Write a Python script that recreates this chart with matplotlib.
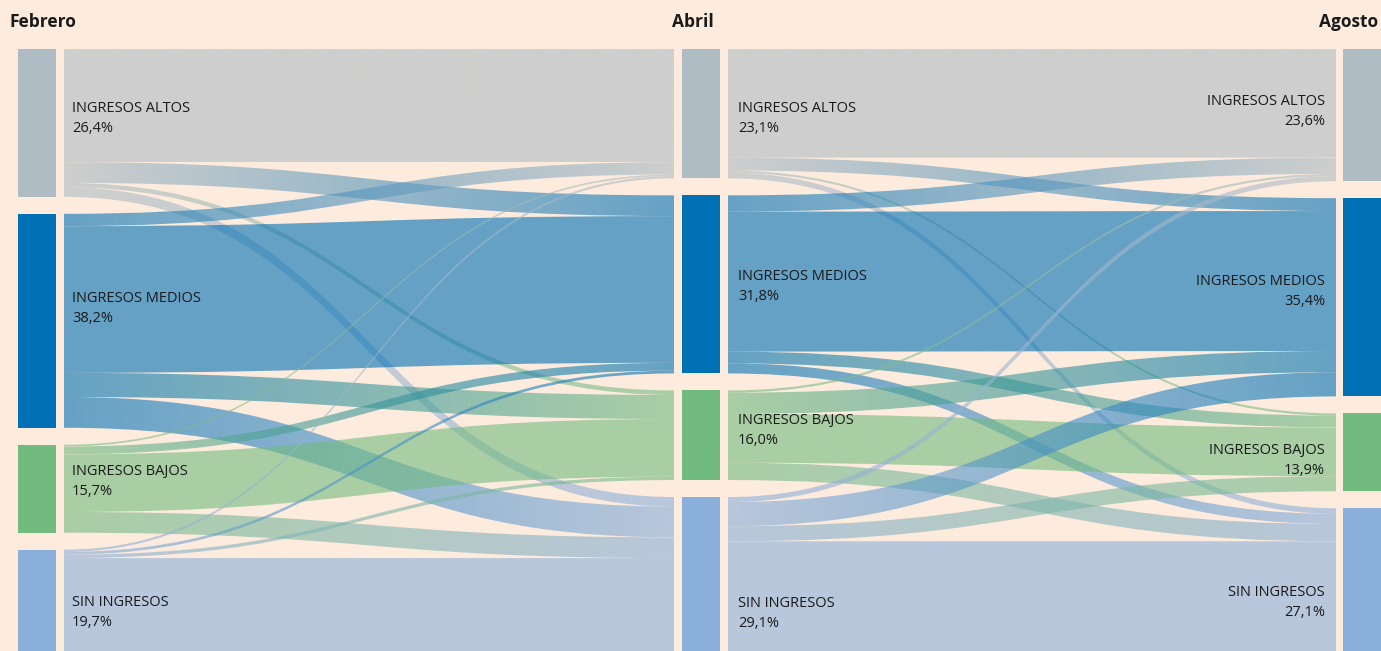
import numpy as np
import matplotlib.pyplot as plt
from matplotlib.path import Path
from matplotlib.patches import PathPatch, Rectangle
from matplotlib.colors import to_rgb

plt.rcParams['font.family'] = ['Open Sans', 'DejaVu Sans']

categorias = ["INGRESOS ALTOS", "INGRESOS MEDIOS", "INGRESOS BAJOS", "SIN INGRESOS"]
meses = ["Febrero", "Abril", "Agosto"]
febrero = [26.4, 38.2, 15.7, 19.7]
abril = [23.1, 31.8, 16.0, 29.1]
agosto = [23.6, 35.4, 13.9, 27.1]

# flujos en % del total: filas = origen, columnas = destino
feb_abr = [[20.2, 3.7, 0.8, 1.7],
           [2.2, 26.2, 4.3, 5.5],
           [0.3, 1.4, 10.3, 3.7],
           [0.4, 0.5, 0.6, 18.2]]
abr_ago = [[19.4, 2.3, 0.4, 1.0],
           [2.9, 25.0, 2.1, 1.8],
           [0.4, 3.8, 8.7, 3.1],
           [0.9, 4.3, 2.7, 21.2]]

colores = ["#afbcc4", "#0071b5", "#72bb7f", "#8bafdb"]
fondo = "#fdebdd"
texto = "#1a1a1a"

W, H = 1381, 651
escala = 5.6      # px por punto porcentual
top_px = 49
gap = 17 / escala
node_x = [18, 682, 1343]
node_w = 38
link_x = [(64, 674), (728, 1336)]
# ajuste vertical de las etiquetas (px) respecto al centro del nodo
ajuste = [[-4, -12, -7, 8],
          [5, 2, -5, 35],
          [-4, -6, 8, 18]]


def tops(vals):
    out, y = [], 0.0
    for v in vals:
        out.append(y)
        y += v + gap
    return out


def banda(ax, x0, x1, ys, yt, w, c0, c1):
    xm = (x0 + x1) / 2
    verts = [(x0, ys), (xm, ys), (xm, yt), (x1, yt),
             (x1, yt + w), (xm, yt + w), (xm, ys + w), (x0, ys + w), (x0, ys)]
    codes = [Path.MOVETO, Path.CURVE4, Path.CURVE4, Path.CURVE4,
             Path.LINETO, Path.CURVE4, Path.CURVE4, Path.CURVE4, Path.CLOSEPOLY]
    patch = PathPatch(Path(verts, codes), facecolor="none", edgecolor="none")
    ax.add_patch(patch)
    t = np.linspace(0, 1, 256)[None, :, None]
    rgb = (1 - t) * np.array(to_rgb(c0)) + t * np.array(to_rgb(c1))
    img = np.concatenate([rgb, np.full((1, 256, 1), 0.6)], axis=2)
    lo, hi = min(ys, yt), max(ys, yt) + w
    im = ax.imshow(img, extent=(x0, x1, hi, lo), aspect="auto",
                   interpolation="bilinear")
    im.set_clip_path(patch)


def pct(v):
    return f"{v:.1f}".replace(".", ",") + "%"


fig = plt.figure(figsize=(W / 100, H / 100), dpi=100, facecolor=fondo)
ax = fig.add_axes([0, 0, 1, 1])
ax.set_facecolor(fondo)

columnas = [febrero, abril, agosto]
posiciones = [tops(c) for c in columnas]

# enlaces
for k, flujos in enumerate([feb_abr, abr_ago]):
    src_off = list(posiciones[k])
    dst_off = list(posiciones[k + 1])
    x0, x1 = link_x[k]
    for i in range(4):
        for j in range(4):
            w = flujos[i][j]
            banda(ax, x0, x1, src_off[i], dst_off[j], w, colores[i], colores[j])
            src_off[i] += w
            dst_off[j] += w

# nodos
for k, vals in enumerate(columnas):
    for i, v in enumerate(vals):
        ax.add_patch(Rectangle((node_x[k], posiciones[k][i]), node_w, v,
                               facecolor=colores[i], edgecolor="none", zorder=3))

# etiquetas
for k, vals in enumerate(columnas):
    for i, v in enumerate(vals):
        yc = posiciones[k][i] + v / 2 + ajuste[k][i] / escala
        s = f"{categorias[i]}\n{pct(v)}"
        if k == 0:
            ax.text(72, yc, s, ha="left", va="center", fontsize=10.5,
                    color=texto, linespacing=1.45, zorder=4)
        elif k == 1:
            ax.text(738, yc, s, ha="left", va="center", fontsize=10.5,
                    color=texto, linespacing=1.45, zorder=4)
        else:
            ax.text(1325, yc, s, ha="right", va="center", fontsize=10.5,
                    color=texto, linespacing=1.45, multialignment="right", zorder=4)

ty = (22 - top_px) / escala
ax.text(10, ty, meses[0], ha="left", va="center", fontsize=12.5,
        fontweight="bold", color=texto)
ax.text(693, ty, meses[1], ha="center", va="center", fontsize=12.5,
        fontweight="bold", color=texto)
ax.text(1378, ty, meses[2], ha="right", va="center", fontsize=12.5,
        fontweight="bold", color=texto)

ax.set_xlim(0, W)
ax.set_ylim((H - top_px) / escala, -top_px / escala)
ax.axis("off")

fig.savefig("out.png", dpi=100, facecolor=fondo)
